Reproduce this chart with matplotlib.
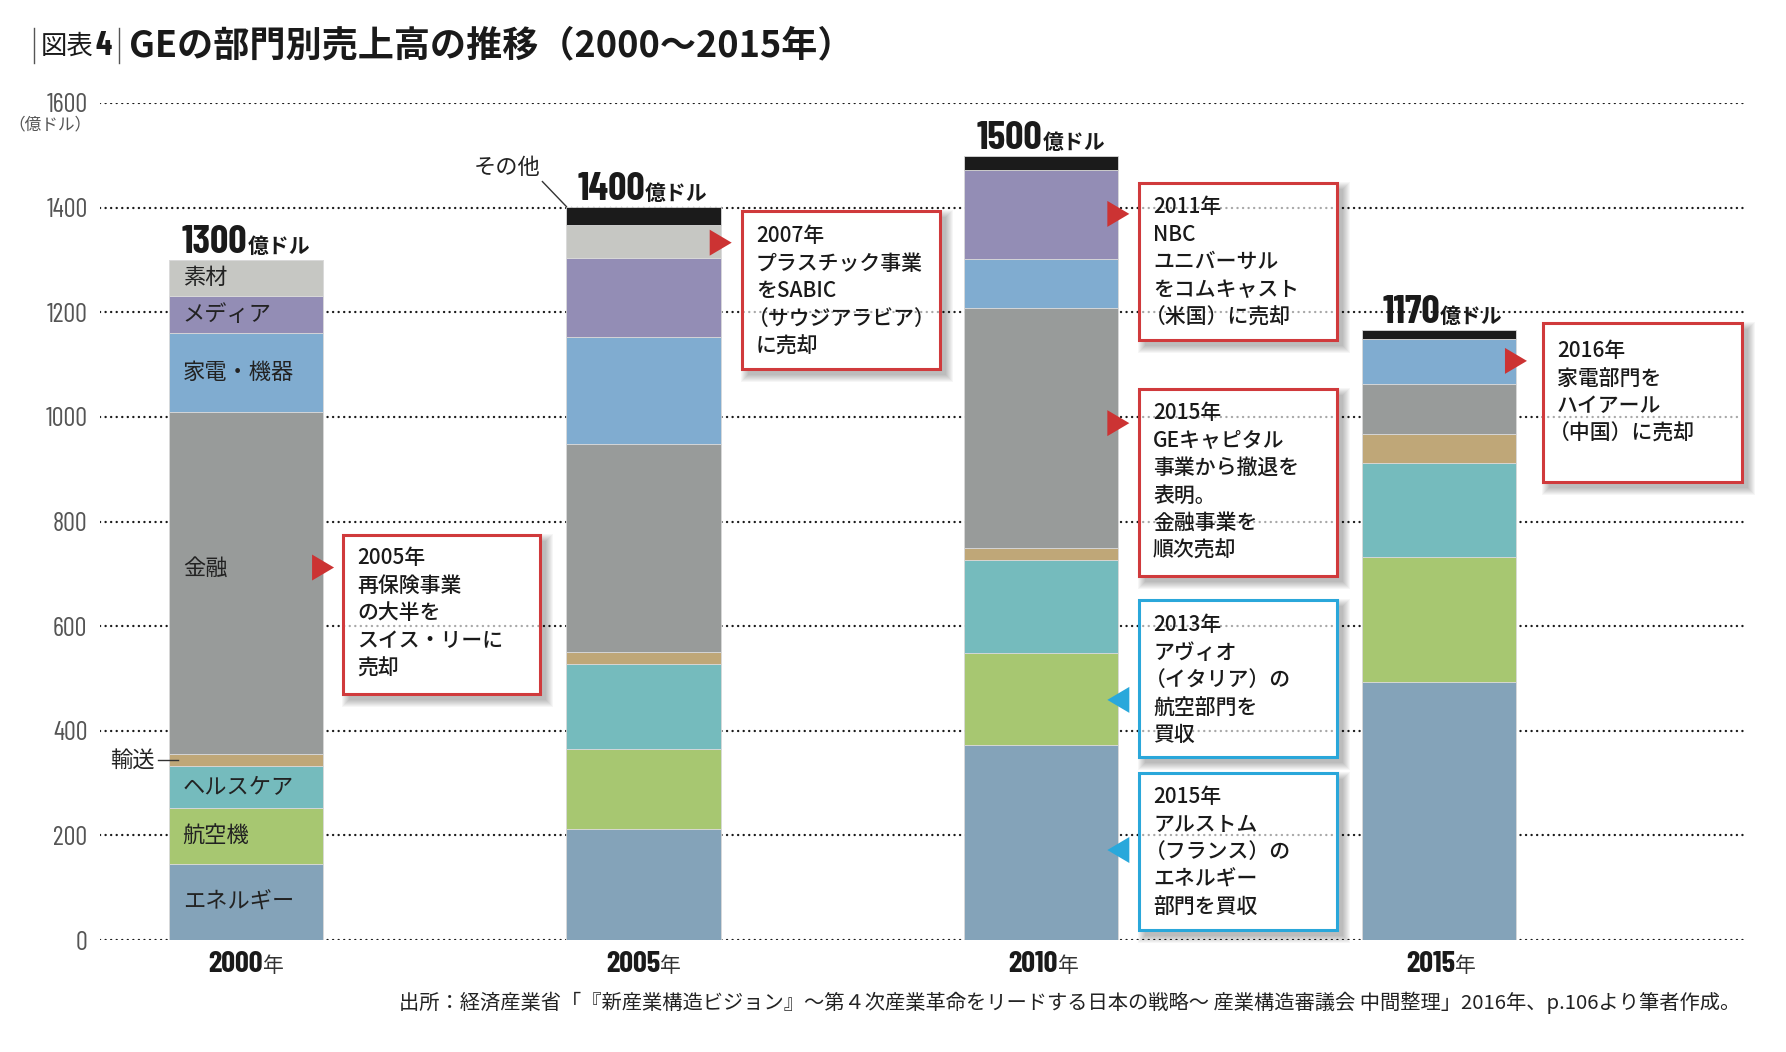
import matplotlib
matplotlib.use('Agg')
import matplotlib.pyplot as plt
from matplotlib import font_manager as fm
from matplotlib.patches import Rectangle, Polygon
from matplotlib.lines import Line2D
import numpy as np

# ---------------- data ----------------
years = ['2000', '2005', '2010', '2015']
total_labels = ['1300', '1400', '1500', '1170']
energy = [145, 213, 372, 494]
aviation = [108, 152, 177, 238]
healthcare = [80, 163, 178, 179]
transport = [22, 22, 22, 56]
finance = [655, 398, 459, 96]
consumer = [150, 205, 94, 86]
media = [72, 150, 170, 0]
materials = [68, 64, 0, 0]
other = [0, 35, 27, 17]
segment_names = ['エネルギー', '航空機', 'ヘルスケア', '輸送', '金融',
                 '家電・機器', 'メディア', '素材', 'その他']
y_ticks = [0, 200, 400, 600, 800, 1000, 1200, 1400, 1600]

title_text = 'GEの部門別売上高の推移（2000〜2015年）'
source_text = ('出所：経済産業省「『新産業構造ビジョン』〜第４次産業革命をリードする日本の戦略〜 '
               '産業構造審議会 中間整理」2016年、p.106より筆者作成。')

notes_text = [
    ['2005年', '再保険事業', 'の大半を', 'スイス・リーに', '売却'],
    ['2007年', 'プラスチック事業', 'をSABIC', '（サウジアラビア）', 'に売却'],
    ['2011年', 'NBC', 'ユニバーサル', 'をコムキャスト', '（米国）に売却'],
    ['2015年', 'GEキャピタル', '事業から撤退を', '表明。', '金融事業を', '順次売却'],
    ['2013年', 'アヴィオ', '（イタリア）の', '航空部門を', '買収'],
    ['2015年', 'アルストム', '（フランス）の', 'エネルギー', '部門を買収'],
    ['2016年', '家電部門を', 'ハイアール', '（中国）に売却'],
]
notes_bar = [0, 1, 2, 2, 2, 2, 3]          # bar each note points at
notes_value = [712, 1333, 1388, 988, 459, 172, 1107]   # level pointed at
notes_kind = ['sell', 'sell', 'sell', 'sell', 'buy', 'buy', 'sell']

# ---------------- style / layout ----------------
W, H = 1786, 1052
colors = ['#84a3b9', '#a7c771', '#75bbbd', '#bfa778', '#989b9a',
          '#80acd0', '#938db5', '#c6c7c3', '#1b1b1b']
RED, BLUE = '#d03a3c', '#2aa7da'
TRI_RED, TRI_BLUE = '#cc3333', '#29a8db'

def has_font(name):
    try:
        fm.findfont(fm.FontProperties(family=name), fallback_to_default=False)
        return True
    except Exception:
        return False

NUM = 'DejaVu Sans'
for cand in ['Barlow Condensed', 'Roboto Condensed', 'Archivo Narrow']:
    if has_font(cand):
        NUM = cand
        break
JP = ['Noto Sans CJK JP', 'DejaVu Sans']
NUMF = [NUM, 'Noto Sans CJK JP', 'DejaVu Sans']
plt.rcParams['font.family'] = JP

AX_L, AX_R, AX_T, AX_B = 100, 1745, 103, 940
fig = plt.figure(figsize=(W / 100, H / 100), dpi=100)
ax = fig.add_axes([AX_L / W, 1 - AX_B / H, (AX_R - AX_L) / W, (AX_B - AX_T) / H])
xpos = np.arange(len(years))
bar_w = 0.388
ax.set_xlim(-0.367, 3.77)
ax.set_ylim(0, 1600)
for s in ax.spines.values():
    s.set_visible(False)
ax.set_xticks([])
ax.set_yticks(y_ticks)
ax.tick_params(axis='y', length=0, pad=9, labelsize=19, labelcolor='#555555')
for lbl in ax.get_yticklabels():
    lbl.set_family(NUMF)

PX = (3.77 + 0.367) / (AX_R - AX_L)      # data-x per pixel
PY = 1600 / (AX_B - AX_T)                # data-y per pixel

def fx(px):
    return px / W

def fy(py):
    return 1 - py / H

def data_to_px(x, y):
    d = ax.transData.transform((x, y))
    return d[0], H - d[1]

GRID_KW = dict(lw=1.7, ls=(0, (0.05, 2.3)), dash_capstyle='round')
for v in y_ticks:
    ax.axhline(v, color='#1a1a1a', zorder=0.5, **GRID_KW)

# ---------------- stacked bars ----------------
series = [energy, aviation, healthcare, transport, finance, consumer, media, materials, other]
bottom = np.zeros(len(years))
bottoms = []
for vals, col in zip(series, colors):
    ax.bar(xpos, vals, bar_w, bottom=bottom, color=col, edgecolor='#d9d9d9',
           linewidth=0.6, zorder=2)
    bottoms.append(bottom.copy())
    bottom = bottom + np.array(vals)
tops = bottom

# totals and x labels
for i in range(len(years)):
    ax.annotate(total_labels[i], xy=(xpos[i], tops[i]), xytext=(1, 5),
                textcoords='offset points', ha='right', va='baseline',
                fontsize=29, fontweight='bold', family=NUMF, color='#1a1a1a',
                annotation_clip=False, zorder=6)
    ax.annotate('億ドル', xy=(xpos[i], tops[i]), xytext=(1, 5),
                textcoords='offset points', ha='left', va='baseline',
                fontsize=15, fontweight='bold', color='#1a1a1a',
                annotation_clip=False, zorder=6)
    ax.annotate(years[i], xy=(xpos[i], 0), xytext=(12, -23),
                textcoords='offset points', ha='right', va='baseline',
                fontsize=22, fontweight='bold', family=NUMF, color='#1a1a1a',
                annotation_clip=False)
    ax.annotate('年', xy=(xpos[i], 0), xytext=(12, -23),
                textcoords='offset points', ha='left', va='baseline',
                fontsize=15, color='#333333', annotation_clip=False)

# segment labels inside 2000 bar
left0 = xpos[0] - bar_w / 2
for k, name in enumerate(segment_names):
    v = series[k][0]
    if v == 0 or name == '輸送':
        continue
    mid = bottoms[k][0] + v / 2
    if name == '金融':
        mid += 27
    ax.annotate(name, xy=(left0, mid), xytext=(10, 0), textcoords='offset points',
                ha='left', va='center', fontsize=16, color='#222222', zorder=6)

# 輸送 leader
k = segment_names.index('輸送')
mid_t = bottoms[k][0] + transport[0] / 2
ax.plot([left0 - 11 * PX, left0 + 9 * PX], [mid_t, mid_t], color='#333333', lw=1, zorder=6,
        clip_on=False)
ax.text(left0 - 14 * PX, mid_t, '輸送', ha='right', va='center', fontsize=16,
        color='#222222', zorder=6)

# その他 leader to 2005 bar corner
cx = xpos[1] - bar_w / 2
cy = tops[1]
ax.plot([cx, cx - 24 * PX], [cy, cy + 25 * PY], color='#333333', lw=1, zorder=6, clip_on=False)
ax.text(cx - 26 * PX, cy + 39 * PY, 'その他', ha='right', va='center', fontsize=16,
        color='#222222', zorder=6, clip_on=False)

# ---------------- annotation boxes ----------------
box_px = [(343, 535, 540, 694), (742, 211, 940, 369), (1139, 183, 1337, 340),
          (1139, 389, 1337, 576), (1139, 600, 1337, 757), (1139, 773, 1337, 930),
          (1543, 323, 1742, 482)]
first_pad = [23, 25, 24, 24, 25, 24, 28]
LINE_STEP = 27.6

for n, lines in enumerate(notes_text):
    x0, y0, x1, y1 = box_px[n]
    ec = RED if notes_kind[n] == 'sell' else BLUE
    # soft shadow
    for s in range(8):
        ax.add_patch(Rectangle((fx(x0 + 6 - s), fy(y1 + 6 + s)), (x1 - x0 + 2 * s) / W,
                               (y1 - y0 + 2 * s) / H, transform=fig.transFigure,
                               facecolor='#000000', edgecolor='none', alpha=0.035,
                               zorder=3, clip_on=False))
    face = Rectangle((fx(x0), fy(y1)), (x1 - x0) / W, (y1 - y0) / H,
                     transform=fig.transFigure, facecolor='white', edgecolor='none',
                     zorder=4, clip_on=False)
    ax.add_patch(face)
    for v in y_ticks:
        ln = ax.axhline(v, color='#a8a8a8', zorder=4.5, **GRID_KW)
        ln.set_clip_path(face)
    ax.add_patch(Rectangle((fx(x0), fy(y1)), (x1 - x0) / W, (y1 - y0) / H,
                           transform=fig.transFigure, facecolor='none', edgecolor=ec,
                           linewidth=2.2, zorder=5, clip_on=False))
    for j, t in enumerate(lines):
        shift = -8 if t.startswith('（') else 0
        ax.text(fx(x0 + 14 + shift), fy(y0 + first_pad[n] + j * LINE_STEP), t,
                transform=fig.transFigure, ha='left', va='center', fontsize=15,
                fontweight='medium', color='#1a1a1a', zorder=6)
    # triangle
    b = notes_bar[n]
    edge_px, ty = data_to_px(xpos[b] + bar_w / 2, notes_value[n])
    if notes_kind[n] == 'sell':
        pts = [(edge_px - 11, ty - 13), (edge_px - 11, ty + 13), (edge_px + 11, ty)]
        tc = TRI_RED
    else:
        pts = [(edge_px + 11, ty - 13), (edge_px + 11, ty + 13), (edge_px - 11, ty)]
        tc = TRI_BLUE
    ax.add_patch(Polygon([(fx(p), fy(q)) for p, q in pts], closed=True,
                         transform=fig.transFigure, facecolor=tc, edgecolor='none',
                         zorder=5, clip_on=False))

# ---------------- titles / notes ----------------
fig.text(fx(91), fy(125), '（億ドル）', ha='right', va='center', fontsize=12, color='#555555')
for xb in (34, 119):
    fig.add_artist(Line2D([fx(xb), fx(xb)], [fy(28), fy(63)], color='#555555', lw=1))
fig.text(fx(41), fy(46), '図表', ha='left', va='center', fontsize=19, color='#1a1a1a')
fig.text(fx(96), fy(46), '4', ha='left', va='center', fontsize=24, fontweight='bold',
         family=NUMF, color='#1a1a1a')
fig.text(fx(129), fy(46), title_text, ha='left', va='center', fontsize=26,
         fontweight='bold', color='#1a1a1a')
fig.text(fx(1740), fy(1003), source_text, ha='right', va='center', fontsize=14.6,
         color='#222222')

fig.savefig('out.png', dpi=100)
